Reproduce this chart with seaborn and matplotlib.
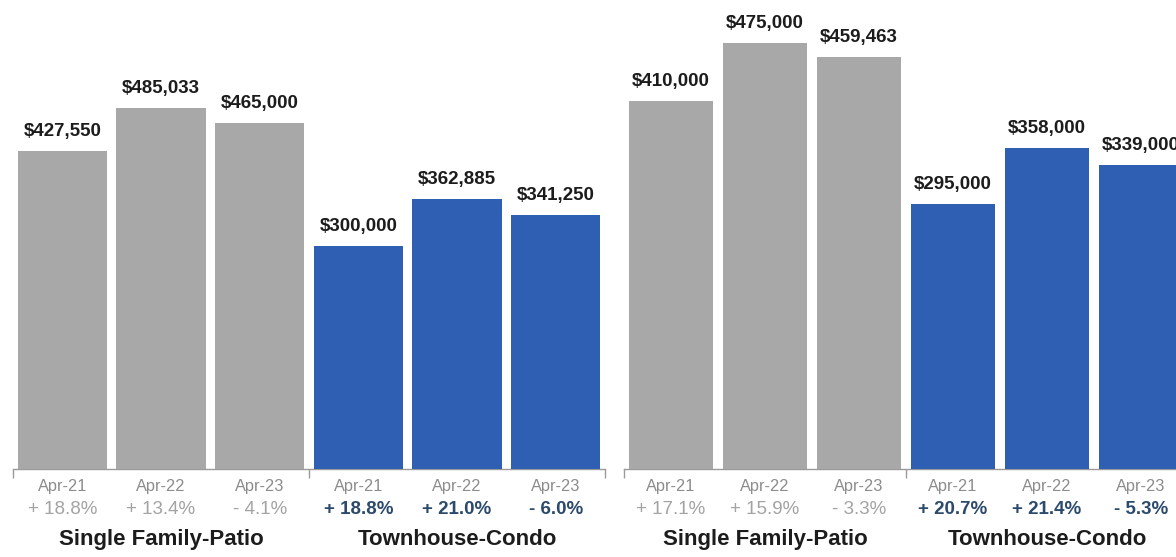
import matplotlib
matplotlib.use("Agg")
import matplotlib.pyplot as plt
import seaborn as sns
import pandas as pd

# Median sales price, April of each year, two market areas
periods = ["Apr-21", "Apr-22", "Apr-23"]
segments = ["Single Family-Patio", "Townhouse-Condo"]

area_a_prices = [427550, 485033, 465000, 300000, 362885, 341250]
area_a_changes = ["+ 18.8%", "+ 13.4%", "- 4.1%", "+ 18.8%", "+ 21.0%", "- 6.0%"]

area_b_prices = [410000, 475000, 459463, 295000, 358000, 339000]
area_b_changes = ["+ 17.1%", "+ 15.9%", "- 3.3%", "+ 20.7%", "+ 21.4%", "- 5.3%"]

GREY = "#a8a8a8"
BLUE = "#2f5fb3"
TEXT_DARK = "#1c1c1c"
TICK_GREY = "#8c8c8c"
PCT_GREY = "#a3a3a3"
PCT_BLUE = "#2c4a6c"
AXIS_GREY = "#9a9a9a"

sns.set_theme(style="white")
plt.rcParams["font.family"] = ["Liberation Sans", "DejaVu Sans"]

W, H, DPI = 1176, 557, 100
fig = plt.figure(figsize=(W / DPI, H / DPI), dpi=DPI)
fig.patch.set_facecolor("white")


def build_frame(prices):
    rows = []
    for i, price in enumerate(prices):
        seg = segments[i // 3]
        rows.append({"slot": f"{seg}|{periods[i % 3]}", "segment": seg,
                     "price": price})
    return pd.DataFrame(rows)


def draw_panel(rect, prices, changes, ylim_top, xlim_right, bar_width):
    ax = fig.add_axes(rect)
    df = build_frame(prices)
    sns.barplot(data=df, x="slot", y="price", hue="segment",
                palette={segments[0]: GREY, segments[1]: BLUE},
                dodge=False, width=bar_width, legend=False, ax=ax,
                saturation=1, errorbar=None, linewidth=0)
    for s in ("top", "right", "left"):
        ax.spines[s].set_visible(False)
    ax.spines["bottom"].set_color(AXIS_GREY)
    ax.spines["bottom"].set_linewidth(1.0)
    ax.spines["bottom"].set_zorder(0.5)
    ax.set_yticks([])
    # group separators on the baseline
    ax.set_xticks([-0.5, 2.5, 5.5])
    ax.set_xticklabels([])
    ax.tick_params(axis="x", direction="out", length=6.5, width=1.0,
                   color=AXIS_GREY, bottom=True)
    ax.set_xlim(-0.5, xlim_right)
    ax.set_ylim(0, ylim_top)
    ax.set_xlabel("")
    ax.set_ylabel("")
    ax.set_facecolor("white")

    # price labels above each bar
    for i, price in enumerate(prices):
        ax.annotate(f"${price:,}", xy=(i, price), xytext=(0, 8),
                    textcoords="offset points", ha="center", va="bottom",
                    fontsize=13.5, fontweight="bold", color=TEXT_DARK,
                    annotation_clip=False)

    xtr = ax.get_xaxis_transform()
    for i, change in enumerate(changes):
        ax.annotate(periods[i % 3], xy=(i, 0), xycoords=xtr,
                    xytext=(0, -12.6), textcoords="offset points",
                    ha="center", va="center", fontsize=11.8,
                    color=TICK_GREY, annotation_clip=False)
        blue = i >= 3
        ax.annotate(change, xy=(i, 0), xycoords=xtr,
                    xytext=(0, -29.2), textcoords="offset points",
                    ha="center", va="center", fontsize=13.5,
                    fontweight="bold" if blue else "normal",
                    color=PCT_BLUE if blue else PCT_GREY,
                    annotation_clip=False)
    for k, seg in enumerate(segments):
        gx = 1 + 3 * k
        ax.annotate(seg, xy=(gx, 0), xycoords=xtr,
                    xytext=(0, -51), textcoords="offset points",
                    ha="center", va="center", fontsize=16,
                    fontweight="bold", color=TEXT_DARK,
                    annotation_clip=False)
    return ax


base_px = 469
bottom = (H - base_px) / H
height = base_px / H

# left area: 13..605 px, six equal bar slots
draw_panel([13 / W, bottom, 592 / W, height], area_a_prices, area_a_changes,
           ylim_top=631000, xlim_right=5.5, bar_width=0.905)

# right area: starts at 624 px, 94 px per slot, runs off the edge
draw_panel([624 / W, bottom, 552 / W, height], area_b_prices, area_b_changes,
           ylim_top=523000, xlim_right=-0.5 + 552 / 94.0, bar_width=0.9)

fig.savefig("out.png", dpi=DPI, facecolor="white")
